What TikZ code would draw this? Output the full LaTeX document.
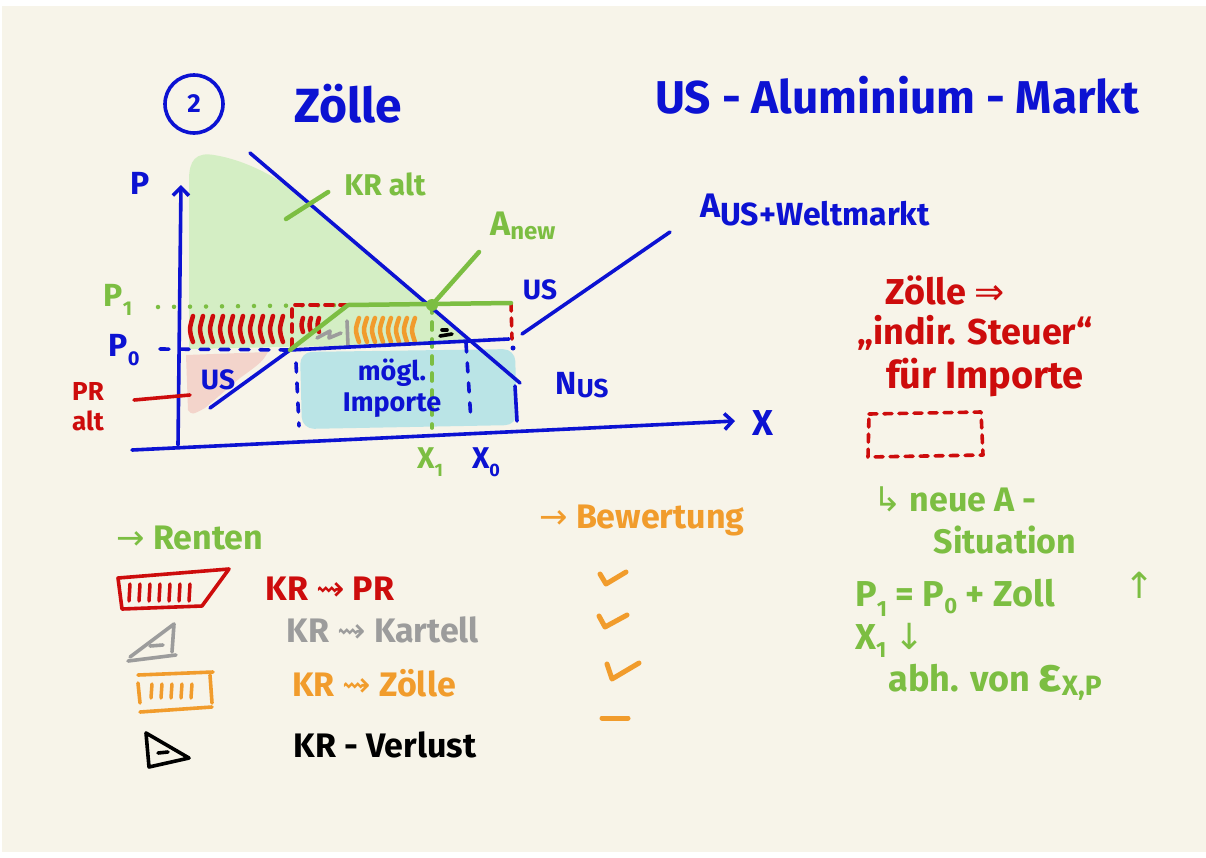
\documentclass[tikz,border=0pt]{standalone}
\usepackage{fontspec}
\setmainfont{Fira Sans}
\newfontfamily\arrowfont{DejaVu Sans}
\usetikzlibrary{arrows.meta,calc}
\definecolor{paper}{RGB}{247,244,233}
\definecolor{inkblue}{RGB}{12,18,210}
\definecolor{inkgreen}{RGB}{124,190,66}
\definecolor{inkred}{RGB}{205,12,12}
\definecolor{inkorange}{RGB}{241,156,44}
\definecolor{inkgray}{RGB}{156,156,156}
\definecolor{fillgreen}{RGB}{212,238,196}
\definecolor{fillblue}{RGB}{186,228,230}
\definecolor{fillpink}{RGB}{243,212,203}
\tikzset{
  >={Straight Barb[length=8pt,width=16pt]},
  pen/.style={line width=3.6pt, line cap=round, line join=round},
  bpen/.style={pen, inkblue},
  gpen/.style={pen, inkgreen, line width=4.5pt},
  rpen/.style={pen, inkred},
  open/.style={pen, inkorange, line width=5pt},
  kpen/.style={pen, inkgray},
  blackpen/.style={pen, black},
  bdash/.style={bpen, dash pattern=on 9pt off 11pt},
  gdash/.style={pen, inkgreen, dash pattern=on 8pt off 9pt},
  gdots/.style={pen, inkgreen, line width=4.5pt, dash pattern=on 0pt off 16pt},
  rdash/.style={pen, inkred, dash pattern=on 8pt off 7pt},
  hatch/.style={pen, line width=4.5pt},
  txt/.style={font=\fontsize{#1}{#1}\selectfont\bfseries, inner sep=0pt, align=center},
  txt/.default=32,
  btxt/.style={txt=#1, text=inkblue},
  btxt/.default=32,
  gtxt/.style={txt=#1, text=inkgreen},
  gtxt/.default=32,
  rtxt/.style={txt=#1, text=inkred},
  rtxt/.default=32,
  otxt/.style={txt=#1, text=inkorange},
  otxt/.default=32,
  ktxt/.style={txt=#1, text=inkgray},
  ktxt/.default=32
}
\newcommand{\lowsub}[3]{\raisebox{#1}{\fontsize{#2}{#2}\selectfont #3}}
\newcommand{\arr}[1]{{\arrowfont\mdseries #1}}
\begin{document}
\begin{tikzpicture}[x=1pt,y=-1pt]
\useasboundingbox (0,0) rectangle (1206,857);
\fill[white] (0,0) rectangle (1206,857);
\fill[paper] (2,6) rectangle (1206,852);

% key points of the diagram
\coordinate (origin) at (178,445);
\coordinate (ytop) at (181,185);
\coordinate (xstart) at (132,450);
\coordinate (xend) at (735,421);
\coordinate (dtop) at (250,153);
\coordinate (dbot) at (520,383);
\coordinate (sbot) at (210,408);
\coordinate (kink) at (290,350);
\coordinate (wend) at (509,339);
\coordinate (supa) at (522,334);
\coordinate (supb) at (670,232);
\coordinate (tkink) at (348,305);
\coordinate (eqone) at (432,305);
\coordinate (tend) at (511,303);
\coordinate (anewtop) at (479,252);

% surfaces
\fill[fillgreen] (189,180) .. controls (189,160) and (196,152) .. (214,155)
  .. controls (245,160) and (275,176) .. (300,195) -- (471,343) -- (189,349) -- cycle;
\fill[fillpink] (186,355) -- (268,352) .. controls (262,362) .. (240,378)
  -- (205,408) .. controls (192,415) .. (188,410) -- cycle;
\fill[fillblue, rounded corners=12pt] (300,352) -- (515,349) -- (517,425) -- (302,429) -- cycle;

% rent hatching
\foreach \x in {193,203,...,283}
  \draw[hatch, inkred] (\x,316) .. controls (\x-4,330) .. (\x,342);
\foreach \x in {303,311,319}
  \draw[hatch, inkred] (\x,318) .. controls (\x-2,325) .. (\x,332);
\foreach \x in {359,367,...,415}
  \draw[hatch, inkorange] (\x,318) .. controls (\x-4,330) .. (\x,342);
\draw[kpen] (317,338) -- (330,331) -- (329,338) -- (341,333);
\draw[kpen] (347,321) -- (348,346);
\draw[blackpen] (442,330) -- (447,330);
\draw[blackpen] (440,336) -- (452,334);

% guide lines
\draw[gdots] (158,307) -- (tkink);
\draw[bdash] (160,349) -- (kink);
\draw[rdash] (292,347) -- (292,305) -- (tkink);
\draw[rdash] (tend) -- (512,339);
\draw[gdash] (eqone) -- (432,428);
\draw[bdash] (296,363) -- (299,426);
\draw[bdash] (466,343) -- (471,421);
\fill[inkblue] (513,348) circle (2.5);
\draw[bpen] (515,386) -- (517,421);

% axes and curves
\draw[bpen, ->] (origin) -- (ytop);
\draw[bpen, ->] (xstart) -- (xend);
\draw[bpen] (dtop) -- (dbot);
\draw[bpen] (sbot) -- (kink) -- (wend);
\draw[bpen] (supa) -- (supb);
\draw[gpen] (kink) -- (tkink) -- (tend);
\draw[gpen] (eqone) -- (anewtop);
\fill[inkgreen] (eqone) circle (6);

% heading
\node[draw=inkblue, pen, circle, minimum size=58pt, btxt=26] (num) at (194,104) {2};
\node[btxt=48] (title) at (348,104) {Zölle};
\node[btxt=46] (markt) at (897,95) {US - Aluminium - Markt};

% labels of the diagram
\node[btxt=32] (pax) at (140,183) {P};
\node[btxt=36] (xax) at (763,423) {X};
\node[gtxt=30] (kralt) at (385,184) {KR alt};
\coordinate (krtick) at (286,219);
\draw[gpen] (krtick) -- ($(kralt.west)+(-16,8)$);
\node[gtxt=34, anchor=west] (anew) at (490,226) {A\lowsub{-4pt}{24}{new}};
\node[btxt=34, anchor=west] (aweltlbl) at (700,210) {A\lowsub{-8pt}{32}{US+Weltmarkt}};
\node[btxt=28] (uslbl) at (540,290) {US};
\node[gtxt=32] (pone) at (118,300) {P\lowsub{-9pt}{20}{1}};
\node[btxt=32] (pzero) at (124,350) {P\lowsub{-9pt}{20}{0}};
\node[rtxt=26, font=\fontsize{26}{30}\selectfont\bfseries] (pralt) at (88,407) {PR\\alt};
\coordinate (prstart) at (134,400);
\coordinate (prtip) at (190,395);
\draw[rpen] (prstart) -- (prtip);
\node[btxt=28] (usfill) at (218,380) {US};
\node[btxt=28, font=\fontsize{27}{31}\selectfont\bfseries] (imports) at (392,388) {mögl.\\Importe};
\node[btxt=32] (nus) at (582,385) {N\lowsub{-3pt}{26}{US}};
\node[gtxt=30] (xone) at (430,462) {X\lowsub{-8pt}{18}{1}};
\node[btxt=30] (xzero) at (486,462) {X\lowsub{-8pt}{18}{0}};

% rents legend
\node[gtxt=34] (renten) at (190,538) {\arr{→} Renten};
\draw[rpen] (118,578) -- (229,569) -- (202,606) -- (122,609) -- cycle;
\foreach \x in {130,140,...,190}
  \draw[hatch, inkred, line width=3.5pt] (\x,584) -- (\x-1,601);
\node[rtxt=34] (kpr) at (330,589) {KR \arr{⇝} PR};
\draw[kpen] (130,657) -- (174,624) -- (172,652);
\draw[kpen] (128,661) -- (176,655);
\draw[kpen] (150,646) -- (163,645);
\node[ktxt=34] (kkart) at (383,630) {KR \arr{⇝} Kartell};
\draw[open, line width=3.6pt] (138,675) -- (213,672);
\draw[open, line width=3.6pt] (138,683) -- (140,703);
\draw[open, line width=3.6pt] (210,675) -- (212,703);
\draw[open, line width=3.6pt] (140,712) -- (212,707);
\foreach \x in {152,162,...,192}
  \draw[hatch, inkorange, line width=3.5pt] (\x,684) -- (\x-1,698);
\node[otxt=34] (kzoll) at (374,683) {KR \arr{⇝} Zölle};
\draw[blackpen] (146,733) -- (149,767) -- (189,758) -- cycle;
\draw[blackpen] (158,753) -- (168,752);
\node[txt=34] (kverl) at (385,745) {KR - Verlust};

% assessment
\node[otxt=34] (bewert) at (642,520) {\arr{→} Bewertung};
\draw[open] (600,574) -- (606,584) -- (626,572);
\draw[open] (599,616) -- (605,627) -- (627,615);
\draw[open] (607,664) -- (612,679) -- (639,663);
\draw[open] (602,718) -- (628,718);

% tariff note
\node[rtxt=36] (zoelle) at (945,290) {Zölle \arr{⇒}};
\node[rtxt=36] (steuer) at (975,333) {„indir. Steuer“};
\node[rtxt=38] (fuer) at (985,378) {für Importe};
\draw[rdash] (869,414) -- (981,412) -- (983,455) -- (868,457) -- cycle;

% new supply situation
\node[gtxt=34] (neua) at (955,499) {\arr{↳} neue A -};
\node[gtxt=34] (situ) at (1005,540) {Situation};
\node[gtxt=36] (pzoll) at (955,598) {P\lowsub{-10pt}{22}{1} = P\lowsub{-7pt}{22}{0} + Zoll};
\node[gtxt=36] (pup) at (1140,585) {\arr{↑}};
\node[gtxt=36] (xdown) at (890,640) {X\lowsub{-8pt}{22}{1} \arr{↓}};
\node[gtxt=36] (elast) at (995,682) {abh. von {\fontsize{48}{48}\selectfont ε}\lowsub{-4pt}{28}{X,P}};
\end{tikzpicture}
\end{document}
